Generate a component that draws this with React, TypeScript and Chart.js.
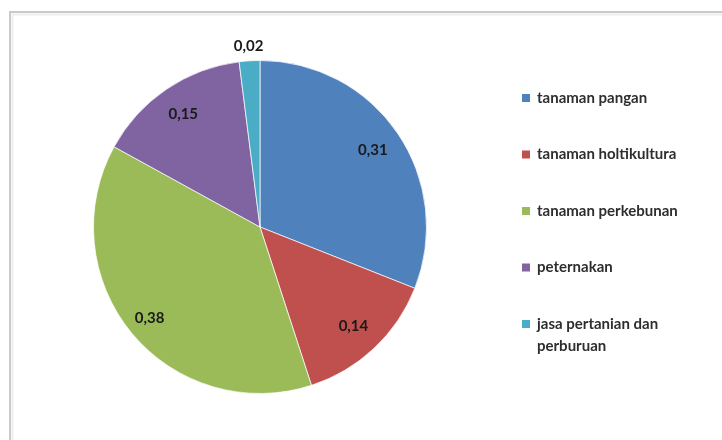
import React, { useEffect, useRef } from "react";
import { Chart, registerables } from "chart.js";

Chart.register(...registerables);

const categories = [
  "tanaman pangan",
  "tanaman holtikultura",
  "tanaman perkebunan",
  "peternakan",
  "jasa pertanian dan perburuan",
];
const legendLines = [
  ["tanaman pangan"],
  ["tanaman holtikultura"],
  ["tanaman perkebunan"],
  ["peternakan"],
  ["jasa pertanian dan", "perburuan"],
];
const shares = [0.31, 0.14, 0.38, 0.15, 0.02];
const sliceColors = ["#4F81BD", "#C0504D", "#9BBB59", "#8064A2", "#4BACC6"];

const FONT = "Lato, 'Open Sans', sans-serif";

const framePlugin = {
  id: "frame",
  beforeDraw(chart: any) {
    const ctx = chart.ctx;
    ctx.save();
    ctx.fillStyle = "#ffffff";
    ctx.fillRect(0, 0, chart.width, chart.height);
    ctx.strokeStyle = "#ededed";
    ctx.lineWidth = 2;
    ctx.beginPath();
    ctx.moveTo(12.5, chart.height);
    ctx.lineTo(12.5, 14.5);
    ctx.lineTo(chart.width, 14.5);
    ctx.stroke();
    ctx.strokeStyle = "#c9c9c9";
    ctx.lineWidth = 2;
    ctx.beginPath();
    ctx.moveTo(10, chart.height);
    ctx.lineTo(10, 12);
    ctx.lineTo(chart.width, 12);
    ctx.stroke();
    ctx.restore();
  },
};

const labelPlugin = {
  id: "sliceLabels",
  afterDatasetsDraw(chart: any) {
    const ctx = chart.ctx;
    const meta = chart.getDatasetMeta(0);
    const data = chart.data.datasets[0].data as number[];
    ctx.save();
    ctx.font = `bold 15px ${FONT}`;
    ctx.fillStyle = "#1a1a1a";
    ctx.textAlign = "center";
    ctx.textBaseline = "middle";
    meta.data.forEach((arc: any, i: number) => {
      const p = arc.getProps(["x", "y", "startAngle", "endAngle", "outerRadius"], true);
      const mid = (p.startAngle + p.endAngle) / 2;
      const small = data[i] < 0.05;
      const r = small ? p.outerRadius + 15 : p.outerRadius * (data[i] > 0.35 ? 0.86 : 0.82);
      const x = p.x + Math.cos(mid) * r;
      const y = p.y + Math.sin(mid) * r;
      ctx.fillText(data[i].toFixed(2).replace(".", ","), x, y);
    });
    ctx.restore();
  },
};

const legendPlugin = {
  id: "sideLegend",
  afterDraw(chart: any) {
    const ctx = chart.ctx;
    const colors = chart.data.datasets[0].backgroundColor as string[];
    ctx.save();
    ctx.font = `bold 15px ${FONT}`;
    ctx.textBaseline = "middle";
    ctx.textAlign = "left";
    const x0 = 522;
    const y0 = 98;
    const step = 56.5;
    legendLines.forEach((lines, i) => {
      const y = y0 + i * step;
      ctx.fillStyle = colors[i];
      ctx.fillRect(x0, y - 4, 8, 8);
      ctx.fillStyle = "#2e2e2e";
      lines.forEach((t, j) => {
        ctx.fillText(t, x0 + 15, y + j * 22);
      });
    });
    ctx.restore();
  },
};

export default function App() {
  const ref = useRef<HTMLCanvasElement>(null);
  useEffect(() => {
    if (!ref.current) return;
    const chart = new Chart(ref.current, {
      type: "pie",
      data: {
        labels: categories,
        datasets: [
          {
            data: shares,
            backgroundColor: sliceColors,
            borderColor: "rgba(255,255,255,0.7)",
            borderWidth: 1,
          },
        ],
      },
      options: {
        animation: false,
        responsive: false,
        maintainAspectRatio: false,
        layout: { padding: { left: 92, right: 294, top: 60, bottom: 46 } },
        plugins: {
          legend: { display: false },
          tooltip: { enabled: false },
        },
      },
      plugins: [framePlugin, labelPlugin, legendPlugin],
    });
    return () => chart.destroy();
  }, []);
  return (
    <div style={{ position: "absolute", left: 0, top: 0, width: 722, height: 440 }}>
      <canvas ref={ref} width={722} height={440} style={{ width: 722, height: 440 }} />
    </div>
  );
}
